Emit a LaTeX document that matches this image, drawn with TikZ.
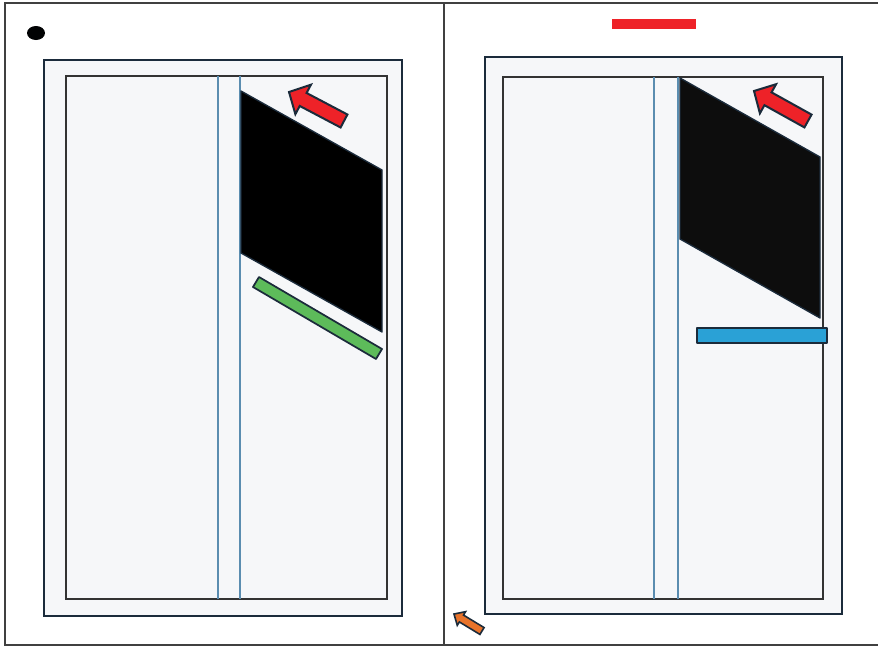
\documentclass[tikz,border=0pt]{standalone}
\usetikzlibrary{calc}
\definecolor{navy}{HTML}{1B2B3B}
\definecolor{pagefill}{HTML}{F6F7F9}
\definecolor{guide}{HTML}{5B8DB0}
\definecolor{redA}{HTML}{EE2228}
\definecolor{greenA}{HTML}{5DBB5A}
\definecolor{blueA}{HTML}{2AA1D6}
\definecolor{orangeA}{HTML}{E8732A}
\tikzset{
  frame/.style={draw=black!75,line width=1.4pt},
  outerpage/.style={draw=navy,fill=pagefill,line width=1.6pt},
  innerpage/.style={draw=black!80,fill=pagefill,line width=0.8pt},
  guideline/.style={draw=guide,line width=0.9pt},
  blackshape/.style={draw=navy,fill=black,line width=1pt,line join=round},
  barshape/.style={draw=navy,line width=1.3pt,line join=round},
  arrowshape/.style={draw=navy,line width=1.5pt,line join=miter},
}
% tail, tip, shaft half width, head half width, head length, style
\newcommand\blockarrow[6]{%
  \coordinate (neck) at ($(#2)!#5!(#1)$);
  \path[#6] ($(#1)!#3!90:(#2)$) -- ($(neck)!#3!90:(#2)$) -- ($(neck)!#4!90:(#2)$)
    -- (#2) -- ($(neck)!#4!-90:(#2)$) -- ($(neck)!#3!-90:(#2)$) -- ($(#1)!#3!-90:(#2)$) -- cycle;
}
\begin{document}
\begin{tikzpicture}[x=0.75pt,y=-0.75pt]
\useasboundingbox (0,0) rectangle (878,647);
% outer frame
\draw[frame] (878,3) -- (5,3) -- (5,645) -- (878,645);
\draw[frame] (444,3) -- (444,645);
% dot
\fill[black!95!navy] (36,33) ellipse [x radius=9, y radius=7];
% left page
\draw[outerpage] (44,60) rectangle (402,616);
\draw[innerpage] (66,76) rectangle (387,599);
\draw[guideline] (218,76) -- (218,599);
\draw[guideline] (240,76) -- (240,599);
\draw[blackshape] (241,91) -- (382,170) -- (382,332) -- (241,253) -- cycle;
\draw[barshape,fill=greenA] (259,277) -- (382,349) -- (376,359) -- (253,287) -- cycle;
\coordinate (la-tail) at (344,121);
\coordinate (la-tip) at (289,92);
\blockarrow{la-tail}{la-tip}{5.5pt}{12.5pt}{12pt}{arrowshape,fill=redA}
% right page
\fill[redA] (612,19) rectangle (696,29);
\draw[outerpage] (485,57) rectangle (842,614);
\draw[innerpage] (503,77) rectangle (823,599);
\draw[guideline] (654,77) -- (654,599);
\draw[guideline] (678,77) -- (678,599);
\draw[blackshape,fill=black!95] (680,78) -- (820,157) -- (820,318) -- (680,239) -- cycle;
\draw[barshape,fill=blueA] (697,328) rectangle (827,343);
\coordinate (ra-tail) at (808,121);
\coordinate (ra-tip) at (754,91);
\blockarrow{ra-tail}{ra-tip}{5.5pt}{12.5pt}{12pt}{arrowshape,fill=redA}
% orange arrow
\coordinate (oa-tail) at (482,631);
\coordinate (oa-tip) at (454,614);
\blockarrow{oa-tail}{oa-tip}{3pt}{6pt}{6.5pt}{arrowshape,line width=1.2pt,fill=orangeA}
\end{tikzpicture}
\end{document}
